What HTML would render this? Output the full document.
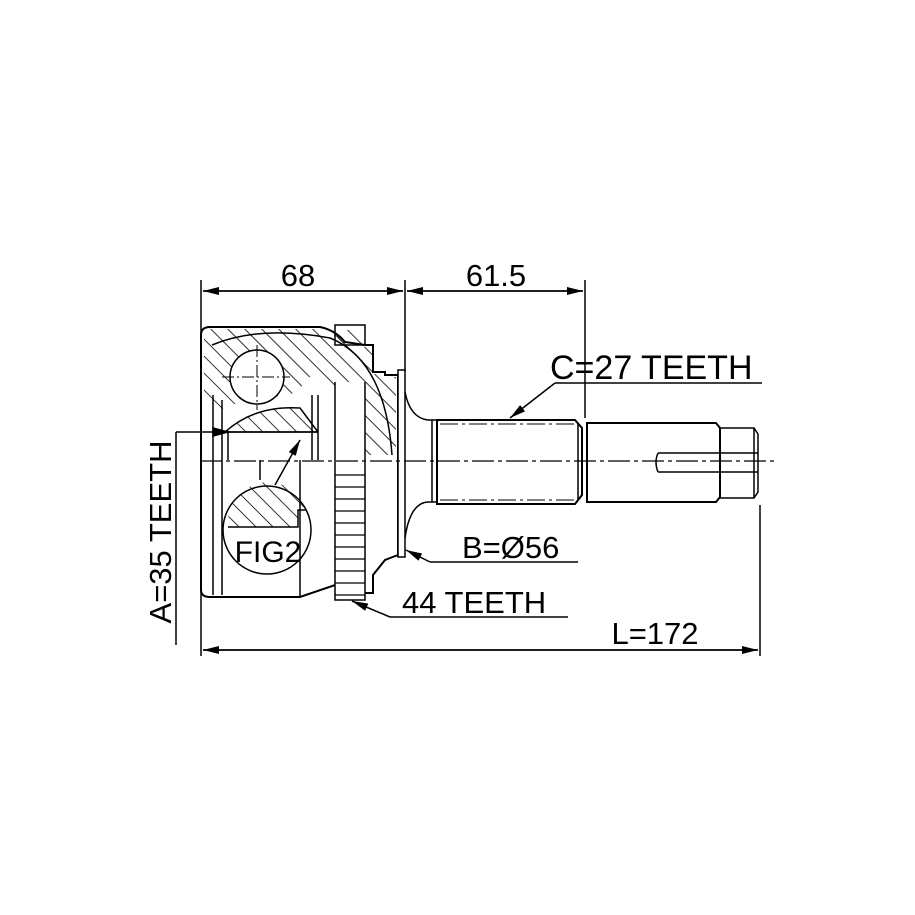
<!DOCTYPE html>
<html><head><meta charset="utf-8"><style>
html,body{margin:0;padding:0;background:#fff}
svg{display:block}
text{font-family:"Liberation Sans",sans-serif;fill:#000}
</style></head><body>
<svg width="915" height="915" viewBox="0 0 915 915" xmlns="http://www.w3.org/2000/svg">
<defs>
<pattern id="h" width="12" height="12" patternUnits="userSpaceOnUse" patternTransform="rotate(-45)">
<line x1="0" y1="0" x2="0" y2="12" stroke="#000" stroke-width="1.6"/>
</pattern>
<marker id="a" markerWidth="16" markerHeight="8" refX="16" refY="4" orient="auto" markerUnits="userSpaceOnUse">
<path d="M0,0 L16,4 L0,8 Z" fill="#000"/>
</marker>
</defs>
<g fill="none" stroke="#000" stroke-width="1.5">
<line x1="201" y1="280" x2="201" y2="656"/>
<line x1="405" y1="280" x2="405" y2="372"/>
<line x1="585" y1="280" x2="585" y2="418"/>
<line x1="760" y1="505" x2="760" y2="656"/>
<line x1="203" y1="291" x2="403" y2="291" marker-end="url(#a)"/>
<line x1="403" y1="291" x2="203" y2="291" marker-end="url(#a)"/>
<line x1="407" y1="291" x2="583" y2="291" marker-end="url(#a)"/>
<line x1="583" y1="291" x2="407" y2="291" marker-end="url(#a)"/>
<line x1="203" y1="650" x2="758" y2="650" marker-end="url(#a)"/>
<line x1="758" y1="650" x2="203" y2="650" marker-end="url(#a)"/>

<!-- hatched regions -->
<path d="M204,335 Q206,329 212,329 L320,329 Q335,332 345,342 L365,347 L373,347 L373,374 L385,374 L385,377 L396,377 L396,455 L365,455 Q355,395 318,378 Q305,372 300,392 Q270,398 240,402 L215,412 L204,400 Z" fill="url(#h)" stroke="none"/>
<path d="M225,432 Q255,405 300,408 L318,432 Z" fill="url(#h)" stroke="none"/>
<path d="M228,520 A40,40 0 0 1 306,510 L298,510 L298,527 L228,527 Z" fill="url(#h)" stroke="none"/>
<rect x="337" y="330" width="26" height="14" fill="url(#h)" stroke="none"/>

<path d="M201,335 Q201,327 210,327 L320,327 Q335,330 345,342 L365,345 L373,345 L373,372 L385,372 L385,375 L398,375 L398,555 L385,560 L373,575 L373,593 L365,593 L335,585 L300,597 L210,597 Q201,597 201,590 Z" stroke-width="2"/>
<rect x="335" y="325" width="30" height="20"/>
<rect x="398" y="370" width="7" height="187" fill="#fff"/>
<line x1="213" y1="395" x2="213" y2="595"/>
<line x1="222" y1="400" x2="222" y2="595"/>
<line x1="300" y1="460" x2="300" y2="597"/>
<line x1="260" y1="460" x2="260" y2="480"/>
<line x1="318" y1="395" x2="318" y2="460"/>
<line x1="312" y1="395" x2="312" y2="460"/>
<path d="M212,345 Q260,325 330,338 Q385,360 392,455"/>
<path d="M225,432 Q255,405 300,408 L318,432"/>
<line x1="225" y1="432" x2="318" y2="432"/>
<line x1="228" y1="432" x2="228" y2="460"/>
<path d="M335,382 L335,600 L365,600 L365,382" fill="#fff"/>
<g stroke-width="1.2">
<line x1="335" y1="475" x2="365" y2="475"/><line x1="335" y1="487" x2="365" y2="487"/>
<line x1="335" y1="499" x2="365" y2="499"/><line x1="335" y1="511" x2="365" y2="511"/>
<line x1="335" y1="523" x2="365" y2="523"/><line x1="335" y1="535" x2="365" y2="535"/>
<line x1="335" y1="547" x2="365" y2="547"/><line x1="335" y1="559" x2="365" y2="559"/>
<line x1="335" y1="571" x2="365" y2="571"/><line x1="335" y1="583" x2="365" y2="583"/>
<line x1="335" y1="595" x2="365" y2="595"/>
</g>
<circle cx="257" cy="377" r="27" fill="#fff"/>
<line x1="257" y1="345" x2="257" y2="410" stroke-dasharray="12,3,2,3" stroke-width="1"/>
<line x1="222" y1="377" x2="290" y2="377" stroke-dasharray="12,3,2,3" stroke-width="1"/>
<circle cx="267" cy="530" r="44" fill="none"/>
<path d="M228,527 L298,527 L298,510 L306,510"/>
<line x1="275" y1="485" x2="300" y2="440" marker-end="url(#a)"/>
<line x1="176" y1="432" x2="176" y2="645"/>
<line x1="176" y1="432" x2="318" y2="432"/>
<path d="M213,428 L228,432 L213,436 Z" fill="#000"/>

<path d="M405,392 Q410,418 428,420 L437,420 M405,538 Q410,503 428,502 L437,502"/>
<path d="M432,420 L432,502"/>
<path d="M437,420 L575,420 L582,428 L582,495 L575,504 L437,504 Z" stroke-width="2"/>
<line x1="440" y1="424" x2="575" y2="424" stroke-dasharray="18,4,3,4" stroke-width="1"/>
<line x1="440" y1="500" x2="575" y2="500" stroke-dasharray="18,4,3,4" stroke-width="1"/>
<line x1="578" y1="424" x2="578" y2="500"/>
<path d="M587,423 L716,423 L720,428 L720,497 L716,502 L587,502 Z" stroke-width="2"/>
<path d="M720,428 L754,428 L758,434 L758,492 L754,498 L720,498"/>
<line x1="754" y1="428" x2="754" y2="498"/>
<path d="M658,453 L758,453 M658,472 L758,472 M658,453 Q654,462 658,472"/>
</g>
<line x1="200" y1="461" x2="775" y2="461" stroke="#000" stroke-width="1.2" stroke-dasharray="22,4,4,4"/>

<g fill="none" stroke="#000" stroke-width="1.5">
<line x1="555" y1="383" x2="762" y2="383"/>
<line x1="555" y1="383" x2="510" y2="418" marker-end="url(#a)"/>
<line x1="430" y1="562" x2="578" y2="562"/>
<line x1="430" y1="562" x2="406" y2="550" marker-end="url(#a)"/>
<line x1="390" y1="617" x2="568" y2="617"/>
<line x1="390" y1="617" x2="352" y2="601" marker-end="url(#a)"/>
</g>
<text x="298" y="286" font-size="31" text-anchor="middle">68</text>
<text x="496" y="286" font-size="31" text-anchor="middle">61.5</text>
<text x="550" y="379" font-size="34">C=27 TEETH</text>
<text x="462" y="558" font-size="31">B=Ø56</text>
<text x="402" y="613" font-size="31">44 TEETH</text>
<text x="655" y="644" font-size="31" text-anchor="middle">L=172</text>
<text x="268" y="562" font-size="30" text-anchor="middle">FIG2</text>
<text transform="translate(171,532) rotate(-90)" font-size="31" text-anchor="middle">A=35 TEETH</text>
</svg>
</body></html>
